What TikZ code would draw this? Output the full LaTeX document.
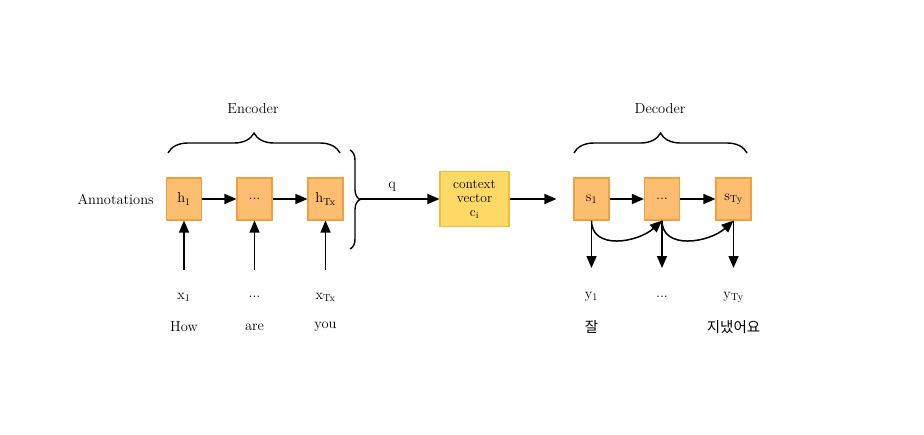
\documentclass[tikz,border=0pt]{standalone}
\usepackage{fontspec}
\usepackage{tikz}
\usetikzlibrary{positioning,arrows.meta,decorations.pathreplacing}
\newfontfamily\krfont{Noto Sans CJK KR}
\definecolor{cellfill}{HTML}{FDBE71}
\definecolor{celldraw}{HTML}{F0A040}
\definecolor{ctxfill}{HTML}{FFD966}
\definecolor{ctxdraw}{HTML}{F2BE3E}
\tikzset{
  cell/.style={draw=celldraw,fill=cellfill,line width=1.1pt,minimum width=35pt,minimum height=42pt,inner sep=1pt},
  ctxbox/.style={draw=ctxdraw,fill=ctxfill,line width=1.1pt,minimum width=69pt,minimum height=55pt,align=center,inner sep=1pt,font=\fontsize{13.5}{14}\selectfont},
  arr/.style={-{Triangle[length=12pt,width=10pt]},line width=1.5pt},
  bracedec/.style={decorate,decoration={brace,amplitude=#1},line width=1.4pt},
  lbl/.style={inner sep=1pt}
}
\begin{document}
\begin{tikzpicture}[x=1pt,y=-1pt,font=\fontsize{14.5}{16}\selectfont]
\useasboundingbox (0,0) rectangle (924,434);
% encoder
\node[cell] (h1) at (184,199) {h\textsubscript{1}};
\node[cell] (hd) at (254.5,199) {...};
\node[cell] (hT) at (325.5,199) {h\textsubscript{Tx}};
\node[lbl,left=11pt of h1] (ann) {Annotations};
\node[lbl] (x1) at (184,297) {x\textsubscript{1}};
\node[lbl] (xd) at (254.5,297) {...};
\node[lbl] (xT) at (325.5,297) {x\textsubscript{Tx}};
\node[lbl] (w1) at (184,327) {How};
\node[lbl] (w2) at (254.5,327) {are};
\node[lbl] (w3) at (325.5,327) {you};
\coordinate (in1) at (184,270);
\coordinate (in2) at (254.5,270);
\coordinate (in3) at (325.5,270);
\draw[bracedec=20pt] (168,153) -- (340,153);
\node[lbl] (enc) at (253,109) {Encoder};
\draw[bracedec=10pt] (350,150) -- (350,249);
\coordinate (tip) at (360,199);
% context
\node[ctxbox] (ctx) at (474.5,199) {context\\vector\\c\textsubscript{i}};
\node[lbl] (q) at (392,187) {q};
% decoder
\node[cell] (s1) at (591.5,199) {s\textsubscript{1}};
\node[cell] (sd) at (662,199) {...};
\node[cell] (sT) at (733.5,199) {s\textsubscript{Ty}};
\node[lbl] (y1) at (591.5,297) {y\textsubscript{1}};
\node[lbl] (yd) at (662,297) {...};
\node[lbl] (yT) at (733.5,297) {y\textsubscript{Ty}};
\node[lbl] (k1) at (591.5,327) {\krfont 잘};
\node[lbl] (kT) at (733.5,327) {\krfont 지냈어요};
\coordinate (out1) at (591.5,268);
\coordinate (out2) at (662,268);
\coordinate (out3) at (733.5,268);
\draw[bracedec=20pt] (574,153) -- (747,153);
\node[lbl] (dec) at (660,109) {Decoder};

\draw[arr] (h1) -- (hd);
\draw[arr] (hd) -- (hT);
\draw[arr] (in1) -- (h1);
\draw[arr] (in2) -- (hd);
\draw[arr] (in3) -- (hT);
\draw[arr] (tip) -- (ctx);
\draw[arr] (ctx) -- ([xshift=-17pt]s1.west);
\draw[arr] (s1) -- (sd);
\draw[arr] (sd) -- (sT);
\draw[arr] (s1) -- (out1);
\draw[arr] (sd) -- (out2);
\draw[arr] (sT) -- (out3);
\draw[arr] (s1.south) .. controls +(0,30) and +(-24,22) .. (sd.south);
\draw[arr] (sd.south) .. controls +(0,30) and +(-24,22) .. (sT.south);
\end{tikzpicture}
\end{document}
